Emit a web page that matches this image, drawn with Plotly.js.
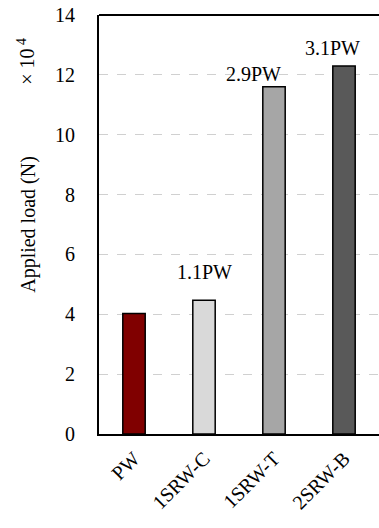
<!DOCTYPE html>
<html>
<head>
<meta charset="utf-8">
<script src="https://cdn.plot.ly/plotly-3.0.1.min.js"></script>
<style>
html,body{margin:0;padding:0;background:#fff;}
#wrap{position:relative;width:379px;height:528px;}
#chart{position:absolute;left:0;top:0;width:379px;height:528px;}
#labels{position:absolute;left:0;top:8px;width:379px;height:528px;pointer-events:none;}
#status{position:absolute;left:0;top:0;width:1px;height:1px;overflow:hidden;color:#fff;font-size:1px;}
</style>
</head>
<body>
<div id="wrap">
  <div id="chart"></div>
  <div id="labels"></div>
</div>
<div id="status"></div>
<script>
var categories = ["PW", "1SRW-C", "1SRW-T", "2SRW-B"];
var loads = [4.03, 4.47, 11.6, 12.3];
var barColors = ["#800000", "#d9d9d9", "#a6a6a6", "#595959"];
var ratioLabels = ["", "1.1PW", "2.9PW", "3.1PW"];
var labelX = [0, 1.0, 1.70, 2.84];
var labelY = [0, 5.4, 12.03, 12.9];

var font = "'Liberation Serif', 'Times New Roman', serif";

var annotations = [];
for (var i = 0; i < categories.length; i++) {
  if (ratioLabels[i]) {
    annotations.push({
      x: labelX[i], y: labelY[i], xref: "x", yref: "y",
      text: ratioLabels[i], showarrow: false,
      font: {family: font, size: 20, color: "#000"}
    });
  }
}
annotations.push({
  xref: "paper", yref: "paper", x: -0.262, y: 0.89,
  xanchor: "center", yanchor: "middle",
  text: "× 10<sup> 4</sup>", showarrow: false, textangle: -90,
  font: {family: font, size: 20, color: "#000"}
});

var trace = {
  type: "bar",
  x: categories,
  y: loads,
  width: 0.32,
  marker: {color: barColors, line: {color: "#000", width: 1.5}}
};

var layout = {
  width: 379, height: 528,
  margin: {l: 99, r: 0, t: 15, b: 94},
  xaxis: {
    showticklabels: false,
    showline: true, linecolor: "#000", linewidth: 2,
    showgrid: false, zeroline: false
  },
  yaxis: {
    range: [0, 14], dtick: 2,
    showline: true, linecolor: "#000", linewidth: 2,
    showgrid: true, gridcolor: "#d0d0d0", griddash: "dash", gridwidth: 1,
    zeroline: false,
    ticks: "outside", ticklen: 18, tickcolor: "rgba(0,0,0,0)",
    tickfont: {family: font, size: 20, color: "#000"},
    title: {text: "Applied load (N)", font: {family: font, size: 20, color: "#000"}, standoff: 14}
  },
  shapes: [{type: "line", xref: "paper", yref: "paper", x0: 0, x1: 1, y0: 1, y1: 1,
            line: {color: "#000", width: 2}}],
  annotations: annotations
};

// Second, transparent layer on the same axes carrying only the rotated category labels
var labelTrace = {
  type: "bar",
  x: categories,
  y: loads,
  width: 0.32,
  marker: {color: "rgba(0,0,0,0)", line: {width: 0}}
};
var labelLayout = {
  width: 379, height: 528,
  margin: {l: 99, r: 0, t: 15, b: 94},
  paper_bgcolor: "rgba(0,0,0,0)", plot_bgcolor: "rgba(0,0,0,0)",
  xaxis: {tickangle: -45, tickfont: {family: font, size: 20, color: "#000"},
          showgrid: false, zeroline: false},
  yaxis: {range: [0, 14], showticklabels: false, showgrid: false, zeroline: false}
};

Plotly.newPlot("chart", [trace], layout, {staticPlot: true}).then(function () {
  return Plotly.newPlot("labels", [labelTrace], labelLayout, {staticPlot: true});
}).then(function () {
  document.getElementById("status").textContent = "ready";
});
</script>
</body>
</html>
